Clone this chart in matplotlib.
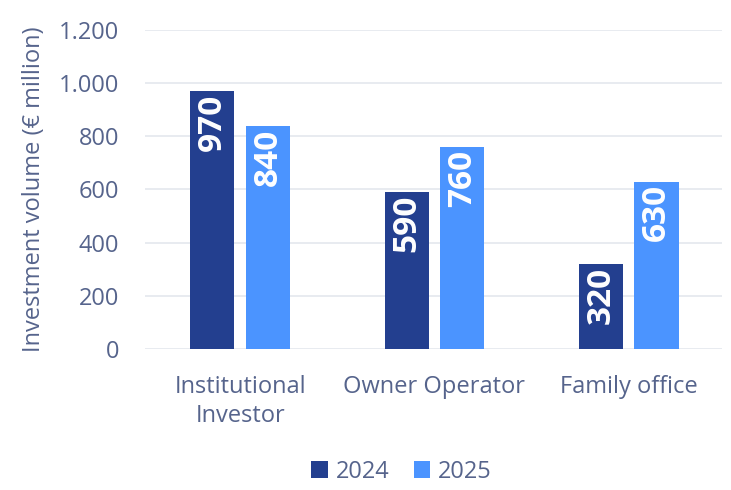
import matplotlib.pyplot as plt
import numpy as np

categories = ["Institutional\nInvestor", "Owner Operator", "Family office"]
values_2024 = [970, 590, 320]
values_2025 = [840, 760, 630]
series_names = ["2024", "2025"]

plt.rcParams["font.family"] = ["Open Sans", "DejaVu Sans"]
text_color = "#56648c"
colors = ["#233f8f", "#4b94ff"]

fig = plt.figure(figsize=(7.31, 4.90), dpi=100)
ax = fig.add_axes([145 / 731, 1 - 349 / 490, 577 / 731, 319 / 490])

x = np.arange(len(categories))
width = 0.227
offset = 0.143
for vals, off, col, name in zip([values_2024, values_2025], [-offset, offset], colors, series_names):
	bars = ax.bar(x + off, vals, width, color=col, label=name, zorder=3)
	for b, v in zip(bars, vals):
		ax.annotate(str(v), (b.get_x() + b.get_width() / 2, v), xytext=(0, -2),
			textcoords="offset points", ha="center", va="top", rotation=90,
			color="white", fontsize=24, fontweight="bold")

ax.set_ylim(0, 1200)
ax.set_xlim(-0.49, 2.48)
ax.set_yticks(range(0, 1201, 200))
ax.set_yticklabels([f"{v:,}".replace(",", ".") for v in range(0, 1201, 200)])
ax.set_xticks(x)
ax.set_xticklabels(categories, linespacing=1.3)
ax.grid(axis="y", color="#e4e7ee", linewidth=1.2, zorder=0)
for s in ax.spines.values():
	s.set_visible(False)
ax.tick_params(left=False, bottom=False, colors=text_color, labelsize=17)
ax.tick_params(axis="y", pad=15)
ax.tick_params(axis="x", pad=15)
ax.set_ylabel("Investment volume (€ million)", color=text_color, fontsize=17)
ax.yaxis.set_label_coords(-0.172, 0.5)

leg = ax.legend(loc="center", bbox_to_anchor=(0.445, -0.385), ncol=2, frameon=False,
	fontsize=17, handlelength=0.7, handleheight=0.7, handletextpad=0.35, columnspacing=1.0)
for t in leg.get_texts():
	t.set_color(text_color)

fig.savefig("out.png", dpi=100)
